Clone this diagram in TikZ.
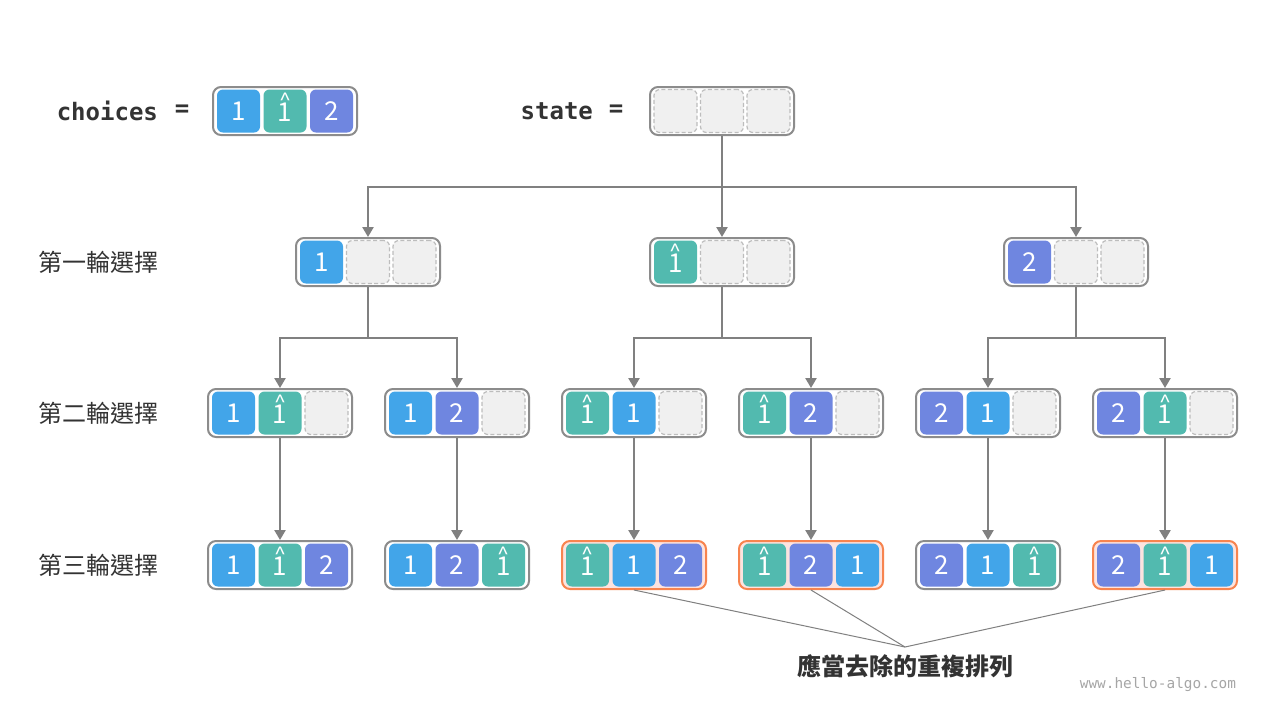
\documentclass[tikz,border=0pt]{standalone}
\usepackage{fontspec}
\usepackage{graphicx}
\setmainfont{Noto Sans CJK TC}
\newfontfamily\codefont{DejaVu Sans Mono}
\usetikzlibrary{arrows.meta}
\definecolor{cblue}{HTML}{42A5E9}
\definecolor{cteal}{HTML}{52BAAF}
\definecolor{cpurple}{HTML}{6F86E0}
\definecolor{cempty}{HTML}{F0F0F0}
\definecolor{cdash}{HTML}{BDBDBD}
\definecolor{cbox}{HTML}{8C8C8C}
\definecolor{corange}{HTML}{F7844F}
\definecolor{cpink}{HTML}{FCE3DF}
\definecolor{cline}{HTML}{808080}
\definecolor{ctext}{HTML}{333333}
\newcommand{\hatone}{\ooalign{\raisebox{-0.8pt}{1}\cr\hidewidth\smash{\raisebox{6.6pt}{\fontsize{9}{9}\selectfont\scalebox{1.2}[1]{\textasciicircum}}}\hidewidth\cr}}
\tikzset{
  cell/.style={minimum size=21.5pt,inner sep=0pt,rounded corners=3pt,text=white,font=\fontsize{13}{13}\selectfont},
  one/.style={cell,fill=cblue,node contents={1}},
  hat/.style={cell,fill=cteal,node contents={\hatone}},
  two/.style={cell,fill=cpurple,node contents={2}},
  none/.style={cell,fill=cempty,draw=cdash,line width=.6pt,dash pattern=on 2pt off 1.2pt,node contents={}},
  box/.style={draw=cbox,fill=white,line width=1pt,rounded corners=4pt,minimum width=72pt,minimum height=24pt,inner sep=0pt},
  dup/.style={draw=corange,fill=cpink},
  link/.style={draw=cline,line width=1.2pt,-{Triangle[width=5.5pt,length=5pt]}},
  rowlab/.style={anchor=west,text=ctext,font=\fontsize{12}{12}\selectfont},
  code/.style={text=ctext,font=\codefont\bfseries\fontsize{12}{12}\selectfont},
}
\newcommand{\perm}[7]{%
  \node[box,#4] (#1) at (#2,#3) {};
  \node[#5,name=#1-1,at={(#2-46.5,#3)}];
  \node[#6,name=#1-2,at={(#2,#3)}];
  \node[#7,name=#1-3,at={(#2+46.5,#3)}];
}
\begin{document}
\begin{tikzpicture}[x=0.5pt,y=-0.5pt]
\useasboundingbox[fill=white] (0,0) rectangle (1280,720);
\node[code,anchor=east] (chlab) at (165,111) {choices};
\node[code] (cheq) at (182,111) {=};
\node[code,anchor=east] (stlab) at (600,111) {state};
\node[code] (steq) at (616,111) {=};
\perm{choices}{285}{111}{}{one}{hat}{two}
\perm{s}{722}{111}{}{none}{none}{none}
\node[rowlab] (row1) at (31,262) {第一輪選擇};
\node[rowlab] (row2) at (31,413) {第二輪選擇};
\node[rowlab] (row3) at (31,565) {第三輪選擇};
\perm{a}{368}{262}{}{one}{none}{none}
\perm{b}{722}{262}{}{hat}{none}{none}
\perm{c}{1076}{262}{}{two}{none}{none}
\perm{aa}{280}{413}{}{one}{hat}{none}
\perm{ab}{457}{413}{}{one}{two}{none}
\perm{ba}{634}{413}{}{hat}{one}{none}
\perm{bb}{811}{413}{}{hat}{two}{none}
\perm{ca}{988}{413}{}{two}{one}{none}
\perm{cb}{1165}{413}{}{two}{hat}{none}
\perm{aaa}{280}{565}{}{one}{hat}{two}
\perm{aba}{457}{565}{}{one}{two}{hat}
\perm{baa}{634}{565}{dup}{hat}{one}{two}
\perm{bba}{811}{565}{dup}{hat}{two}{one}
\perm{caa}{988}{565}{}{two}{one}{hat}
\perm{cba}{1165}{565}{dup}{two}{hat}{one}
\coordinate (j0) at (722,187);
\coordinate (ja) at (368,338);
\coordinate (jb) at (722,338);
\coordinate (jc) at (1076,338);
\foreach \k in {a,b,c}
  \draw[link] (s.south) -- (j0) -| (\k.north);
\foreach \p in {a,b,c}
  \foreach \q in {a,b}
    \draw[link] (\p.south) -- (j\p) -| (\p\q.north);
\foreach \n in {aa,ab,ba,bb,ca,cb}
  \draw[link] (\n.south) -- (\n a.north);
\coordinate (tip) at (905,647);
\node[text=ctext,font=\bfseries\fontsize{12}{12}\selectfont] (note) at (905,666) {應當去除的重複排列};
\foreach \n in {baa,bba,cba}
  \draw[cline,line width=.5pt] (\n.south) -- (tip);
\node[anchor=east,text=black!35,font=\codefont\fontsize{7.2}{7.2}\selectfont] (site) at (1243,685) {www.hello-algo.com};
\end{tikzpicture}
\end{document}
